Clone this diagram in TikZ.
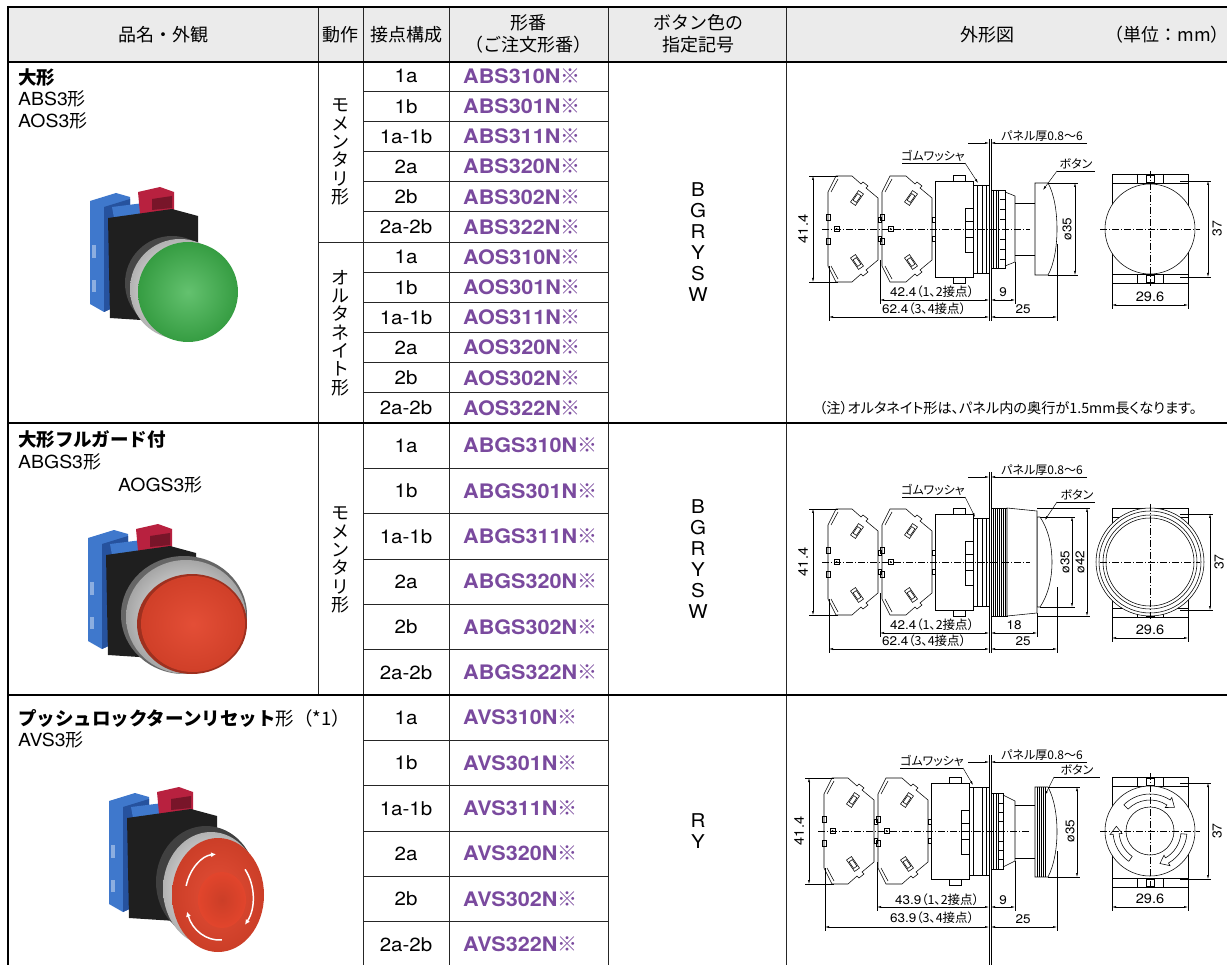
\documentclass[tikz,border=0pt]{standalone}
\usepackage{fontspec}
\setmainfont{TeX Gyre Heros}[FakeStretch=1.08]
\newfontfamily\jp{Noto Sans CJK JP}
\newfontfamily\jpp{Noto Sans CJK JP}[RawFeature={+palt}]
\usetikzlibrary{arrows.meta}
\definecolor{pn}{HTML}{7A4A9E}
\definecolor{hdr}{HTML}{EBEBEB}
\definecolor{bblue}{HTML}{3F78CC}
\definecolor{bbluedk}{HTML}{26529E}
\definecolor{rterm}{HTML}{B8213F}
\definecolor{gcap}{HTML}{3DB24B}
\definecolor{rcap}{HTML}{E2452C}
\newcommand\fs[1]{\fontsize{#1}{#1}\selectfont}
\tikzset{
 tl/.style={line width=0.9pt, draw=black!85},
 sepl/.style={line width=1.3pt},
 heavy/.style={line width=2.2pt},
 dl/.style={line width=0.55pt},
 cl/.style={line width=0.4pt, dash pattern=on 7pt off 2pt on 1pt off 2pt},
 dimline/.style={line width=0.45pt, {Latex[length=4pt,width=2.2pt]}-{Latex[length=4pt,width=2.2pt]}},
 onearr/.style={line width=0.45pt, -{Latex[length=4pt,width=2.2pt]}},
 ext/.style={line width=0.4pt},
 hd/.style={font=\jp\fs{18}, inner sep=0pt, align=center},
 ct/.style={font=\fs{19}, inner sep=0pt},
 pnum/.style={font=\bfseries\fs{20}, text=pn, anchor=west, inner sep=0pt},
 lbl/.style={font=\jpp\fs{12}, inner sep=0pt},
 dimt/.style={font=\fs{12.5}, inner sep=0pt},
 vt/.style={font=\jp\fontsize{18}{18.3}\selectfont, align=center, inner sep=0pt},
 colt/.style={font=\fontsize{19}{21}\selectfont, align=center, inner sep=0pt},
 ttl/.style={anchor=west, inner sep=0pt, font=\fs{18}},
}
% rear parts of the side view: #1 yc, #2 dx, #3 panel top, #4 panel bottom
\newcommand\rear[4]{%
\begin{scope}[shift={(990,#1)}]
 \foreach \bx in {-162,-108}{%
  \pgfmathsetmacro\x{\bx+#2}
  \draw[dl,fill=white] (\x,-37) -- (\x+8,-53) -- (\x+24,-53) -- (\x+33,-45) -- (\x+35,-47) -- (\x+40,-43) -- (\x+38,-41) -- (\x+50,-31) -- (\x+50,31) -- (\x+38,41) -- (\x+40,43) -- (\x+35,47) -- (\x+33,45) -- (\x+24,53) -- (\x+8,53) -- (\x,37) -- cycle;
  \draw[dl] (\x+3,-37) -- (\x+10,-50);
  \draw[dl] (\x+3,37) -- (\x+10,50);
  \draw[dl] (\x-2,-15) rectangle (\x+2,-9);
  \draw[dl] (\x-2,9) rectangle (\x+2,15);
  \draw[dl] (\x+6,-2.5) rectangle (\x+11,2.5);
  \fill (\x+8.5,0) circle (1pt);
  \draw[dl,rotate around={55:(\x+29,-31)}] (\x+22,-34) rectangle (\x+36,-28);
  \draw[dl,rotate around={55:(\x+29,-31)}] (\x+25,-33) rectangle (\x+33,-29);
  \draw[dl,rotate around={-55:(\x+29,33)}] (\x+22,30) rectangle (\x+36,36);
  \draw[dl,rotate around={-55:(\x+29,33)}] (\x+25,31) rectangle (\x+33,35);
  \draw[dl] (\x+50,-12) rectangle (\x+53,-7);
  \draw[dl] (\x+50,7) rectangle (\x+53,12);
 }
 \draw[dl,fill=white] (-55+#2,-48) rectangle (-17+#2,48);
 \draw[dl] (-37+#2,-48) -- (-37+#2,-54) -- (-25+#2,-54) -- (-25+#2,-48);
 \draw[dl] (-37+#2,48) -- (-37+#2,54) -- (-25+#2,54) -- (-25+#2,48);
 \draw[dl] (-25+#2,-21) rectangle (-17+#2,23);
 \draw[dl] (-25+#2,-8) -- (-17+#2,-8);
 \draw[dl] (-25+#2,8) -- (-17+#2,8);
 \draw[dl,fill=white] (-17+#2,-44) rectangle (-1,44);
 \draw[dl] (-13+#2,-44) -- (-13+#2,44);
 \draw[dl] (-8,-44) -- (-8,44);
 \draw[dl] (-4,-44) -- (-4,44);
 \draw[dl] (-1,#3) -- (-1,#4);
 \draw[dl] (1,#3) -- (1,#4);
 \draw[ext] (-181+#2,-53) -- (-152+#2,-53);
 \draw[ext] (-181+#2,53) -- (-152+#2,53);
 \draw[dimline] (-177+#2,-53) -- (-177+#2,53);
 \node[dimt, font=\fs{13.5}, rotate=90] at (-187+#2,0) {41.4};
\end{scope}}
% front view base: #1 yc, #2 top, #3 bottom
\newcommand\frontbase[3]{%
\begin{scope}[shift={(1150,#1)}]
 \draw[dl] (-38,#2) rectangle (38,#3);
 \draw[dl] (-38,#2+9) -- (38,#2+9);
 \draw[dl] (-38,#3-9) -- (38,#3-9);
 \foreach \s in {-13,13}{\draw[dl] (\s,#2) -- (\s,#2+9); \draw[dl] (\s,#3) -- (\s,#3-9);}
 \draw[dl] (-4,#2+1) rectangle (4,#2+8);
 \draw[dl] (-4,#3-1) rectangle (4,#3-8);
\end{scope}}
% front view dims: #1 yc, #2 bottom, #3 dim x of 37
\newcommand\frontdims[3]{%
\begin{scope}[shift={(1150,#1)}]
 \draw[cl] (-50,0) -- (50,0);
 \draw[cl] (0,-58) -- (0,58);
 \draw[ext] (30,-48) -- (#3+3,-48);
 \draw[ext] (30,48) -- (#3+3,48);
 \draw[dimline] (#3,-48) -- (#3,48);
 \node[dimt, font=\fs{13}, rotate=90] at (#3+9,0) {37};
 \draw[ext] (-38,#2) -- (-38,80);
 \draw[ext] (38,#2) -- (38,80);
 \draw[dimline] (-38,76) -- (38,76);
 \node[dimt, font=\fs{13.5}] at (0,68) {29.6};
\end{scope}}
% photo back parts (coordinates of photo 1)
\newcommand\pbback{%
 \fill[bblue] (90,201) -- (116,193) -- (130,197) -- (130,300) -- (104,312) -- (90,304) -- cycle;
 \fill[bbluedk] (104,207) -- (130,199) -- (130,300) -- (104,312) -- cycle;
 \fill[bblue!60!white] (92,245) rectangle (96,258);
 \fill[bblue!60!white] (92,280) rectangle (96,292);
 \fill[bblue] (112,207) -- (168,200) -- (172,210) -- (114,218) -- cycle;
 \fill[rterm] (138,192) -- (160,187) -- (174,192) -- (174,210) -- (140,214) -- cycle;
 \fill[rterm!65!black] (152,199) -- (172,196) -- (172,208) -- (152,210) -- cycle;
 \fill[black!88] (108,218) -- (172,209) -- (198,216) -- (198,312) -- (172,322) -- (110,318) -- cycle;
}
\begin{document}
\begin{tikzpicture}[x=1pt,y=-1pt]
\useasboundingbox (0,0) rectangle (1227,965);
\fill[hdr] (8,7) rectangle (1227,62);

% ---------- photos ----------
\begin{scope}
 \pbback
 \fill[black!72] (172,283) circle (47pt);
 \shade[inner color=white, outer color=black!30] (180,289) circle (50pt);
 \shade[inner color=gcap!80!white, outer color=gcap!88!black] (188,292) circle (50pt);
\end{scope}
\begin{scope}[shift={(-2,337)}]
 \pbback
\end{scope}
\fill[black!60] (184,615) ellipse (63pt and 59pt);
\shade[inner color=white, outer color=black!35] (186,617) ellipse (60pt and 57pt);
\fill[rcap!70!black] (192,624) ellipse (55pt and 50pt);
\shade[inner color=rcap!95!white, outer color=rcap!92!black] (193,624) ellipse (52pt and 48pt);
\begin{scope}[shift={(19,600)}]
 \pbback
\end{scope}
\fill[black!75] (206,882) ellipse (50pt and 56pt);
\shade[inner color=white, outer color=black!30] (211,889) ellipse (48pt and 57pt);
\shade[inner color=rcap!95!white, outer color=rcap!90!black] (218,895) ellipse (46pt and 57pt);
\shade[inner color=rcap!90!black, outer color=rcap] (222,900) ellipse (24pt and 28pt);
\foreach \a/\b in {165/95, 40/-40, -85/-160}{
 \draw[white, line width=1.5pt, -{Latex[length=5pt,width=5pt]}] (219,897) ++(\a:34pt and 43pt) arc[start angle=\a, end angle=\b, x radius=34pt, y radius=43pt];
}

% ---------- grid ----------
\foreach \i in {1,...,11} \draw[tl] (363,61+30.17*\i) -- (608,61+30.17*\i);
\draw[tl] (318,242) -- (363,242);
\foreach \i in {1,...,5}{
 \draw[tl] (363,423+45.33*\i) -- (608,423+45.33*\i);
 \draw[tl] (363,695+45.33*\i) -- (608,695+45.33*\i);
}
\draw[tl] (318,7) -- (318,695);
\foreach \xx in {363,449,608,786} \draw[tl] (\xx,7) -- (\xx,965);
\draw[sepl] (8,423) -- (1227,423);
\draw[sepl] (8,695) -- (1227,695);
\draw[heavy] (8,7) -- (1227,7);
\draw[heavy] (8,62) -- (1227,62);
\draw[line width=1.8pt] (8,6) -- (8,965);

% ---------- header ----------
\node[hd] (h1) at (163,35) {品名・外観};
\node[hd] (h2) at (340,35) {動作};
\node[hd] (h3) at (406,35) {接点構成};
\node[hd, font=\jp\fontsize{18}{22}\selectfont] (h4) at (528,34) {形番\\（ご注文形番）};
\node[hd, font=\jp\fontsize{18}{22}\selectfont] (h5) at (698,34) {ボタン色の\\指定記号};
\node[hd] (h6) at (987,35) {外形図};
\node[hd] (h7) at (1167,35) {（単位：mm）};

% ---------- titles ----------
\node[ttl, font=\jp\bfseries\fs{18.5}] (t1) at (18,78) {大形};
\node[ttl] (t1b) at (18,99) {ABS3\jp 形};
\node[ttl] (t1c) at (18,121) {AOS3\jp 形};
\node[ttl, font=\jp\bfseries\fs{18.5}] (t2) at (18,440) {大形フルガード付};
\node[ttl] (t2b) at (18,462) {ABGS3\jp 形};
\node[ttl] (t2c) at (118,485) {AOGS3\jp 形};
\node[ttl, font=\jp\fs{18.5}] (t3) at (18,718) {{\bfseries プッシュロックターンリセット}形（*1）};
\node[ttl] (t3b) at (18,740) {AVS3\jp 形};

% ---------- action ----------
\node[vt] (v1) at (340,152) {モ\\メ\\ン\\タ\\リ\\形};
\node[vt] (v2) at (340,333) {オ\\ル\\タ\\ネ\\イ\\ト\\形};
\node[vt] (v3) at (340,560) {モ\\メ\\ン\\タ\\リ\\形};

% ---------- contacts & part numbers ----------
\foreach \t [count=\i] in {1a,1b,1a-1b,2a,2b,2a-2b}{
 \node[ct] (ca\i) at (406,46+30.17*\i) {\t};
 \node[ct] (cb\i) at (406,227+30.17*\i) {\t};
 \node[ct] (cc\i) at (406,400.3+45.33*\i) {\t};
 \node[ct] (cd\i) at (406,672.3+45.33*\i) {\t};
}
\foreach \m [count=\i] in {310,301,311,320,302,322}{
 \node[pnum] (pa\i) at (463,46+30.17*\i) {ABS\m N\jp ※};
 \node[pnum] (pb\i) at (463,227+30.17*\i) {AOS\m N\jp ※};
 \node[pnum] (pc\i) at (463,400.3+45.33*\i) {ABGS\m N\jp ※};
 \node[pnum] (pd\i) at (463,672.3+45.33*\i) {AVS\m N\jp ※};
}

% ---------- colour codes ----------
\node[colt] (k1) at (698,242) {B\\G\\R\\Y\\S\\W};
\node[colt] (k2) at (698,559) {B\\G\\R\\Y\\S\\W};
\node[colt] (k3) at (698,831) {R\\Y};

% ---------- drawing 1 ----------
\rear{229}{0}{-90}{92}
\begin{scope}[shift={(990,229)}]
 \draw[dl,fill=white] (1,-39) rectangle (15,39);
 \foreach \k in {3.5,6,8.5}{\draw[dl] (\k,-39) -- (\k,39);}
 \foreach \k in {-30,-20,-10,10,20,30}{\draw[dl] (10,\k) -- (15,\k);}
 \draw[dl] (15,-37) -- (25,-33) -- (25,33) -- (15,37);
 \draw[dl] (25,-26) -- (45,-26);
 \draw[dl] (25,26) -- (45,26);
 \draw[dl,fill=white] (45,-46) -- (58,-46) .. controls (70,-25) and (70,25) .. (58,46) -- (45,46) -- cycle;
 \draw[ext] (58,-46) -- (88,-46);
 \draw[ext] (58,46) -- (88,46);
 \draw[dimline] (85,-46) -- (85,46);
 \node[dimt, rotate=90] at (77,0) {ø35};
 \draw[cl] (-168,0) -- (40,0);
 % bottom dims
 \draw[ext] (-161,37) -- (-161,92);
 \draw[ext] (-110,31) -- (-110,75);
 \draw[ext] (25,33) -- (25,75);
 \draw[ext] (67,15) -- (67,92);
 \draw[dimline] (-110,71) -- (-1,71);
 \draw[dimline] (1,71) -- (25,71);
 \draw[dimline] (-161,88) -- (-1,88);
 \draw[dimline] (1,88) -- (67,88);
 \node[dimt] at (-58,63) {42.4\jpp（1、2接点）};
 \node[dimt] at (13,63) {9};
 \node[dimt] at (-66,80) {62.4\jpp（3、4接点）};
 \node[dimt] at (33,80) {25};
 % labels
 \draw[onearr] (-22,-86) -- (-1,-86);
 \draw[onearr] (97,-86) -- (1,-86);
 \node[lbl] at (52,-93) {パネル厚0.8〜6};
 \draw[ext] (-88,-66) -- (-25,-66);
 \draw[onearr] (-25,-66) -- (-12,-46);
 \node[lbl] at (-57,-73) {ゴムワッシャ};
 \draw[ext] (67,-58) -- (105,-58);
 \draw[onearr] (67,-58) -- (53,-39);
 \node[lbl] at (86,-65) {ボタン};
\end{scope}
\frontbase{229}{-55}{54}
\fill[white] (1150,229) circle (45pt);
\draw[dl] (1150,229) circle (45pt);
\frontdims{229}{54}{58}
\node[font=\jpp\fs{14.2}, inner sep=0pt] (note) at (1008,408) {（注）オルタネイト形は、パネル内の奥行が1.5mm長くなります。};

% ---------- drawing 2 ----------
\rear{562}{0}{-90}{91}
\begin{scope}[shift={(990,562)}]
 \draw[dl,fill=white] (47,-45) -- (50,-45) .. controls (66,-22) and (66,22) .. (50,45) -- (47,45) -- cycle;
 \draw[dl,fill=white] (1,-54) rectangle (17,54);
 \foreach \k in {3,5,7,9,11,13,15}{\draw[dl] (\k,-54) -- (\k,54);}
 \draw[dl,fill=white] (17,-54) -- (47,-51) -- (47,51) -- (17,54) -- cycle;
 \draw[ext] (50,-45) -- (85,-45);
 \draw[ext] (50,45) -- (85,45);
 \draw[ext] (47,-54) -- (100,-54);
 \draw[ext] (47,54) -- (100,54);
 \draw[dimline] (82,-45) -- (82,45);
 \draw[dimline] (97,-54) -- (97,54);
 \node[dimt, rotate=90] at (75,0) {ø35};
 \node[dimt, rotate=90] at (90,0) {ø42};
 \draw[cl] (-168,0) -- (40,0);
 \draw[ext] (-161,37) -- (-161,91);
 \draw[ext] (-110,31) -- (-110,75);
 \draw[ext] (47,51) -- (47,75);
 \draw[ext] (67,25) -- (67,91);
 \draw[dimline] (-110,71) -- (-1,71);
 \draw[dimline] (1,71) -- (47,71);
 \draw[dimline] (-161,87) -- (-1,87);
 \draw[dimline] (1,87) -- (67,87);
 \node[dimt] at (-58,63) {42.4\jpp（1、2接点）};
 \node[dimt] at (24,63) {18};
 \node[dimt] at (-66,79) {62.4\jpp（3、4接点）};
 \node[dimt] at (33,79) {25};
 \draw[onearr] (-22,-85) -- (-1,-85);
 \draw[onearr] (97,-85) -- (1,-85);
 \node[lbl] at (52,-92) {パネル厚0.8〜6};
 \draw[ext] (-88,-65) -- (-25,-65);
 \draw[onearr] (-25,-65) -- (-15,-45);
 \node[lbl] at (-57,-72) {ゴムワッシャ};
 \draw[ext] (67,-60) -- (105,-60);
 \draw[onearr] (67,-60) -- (55,-42);
 \node[lbl] at (87,-67) {ボタン};
\end{scope}
\frontbase{562}{-54}{55}
\foreach \r in {54,51,47,44}{\draw[dl,fill=white] (1150,562) circle (\r pt);}
\frontdims{562}{55}{60}

% ---------- drawing 3 ----------
\rear{831}{-4}{-76}{134}
\begin{scope}[shift={(990,831)}]
 \draw[dl,fill=white] (1,-38) rectangle (13,38);
 \foreach \k in {3.5,6,8.5}{\draw[dl] (\k,-38) -- (\k,38);}
 \foreach \k in {-28,-19,-10,10,19,28}{\draw[dl] (9,\k) -- (13,\k);}
 \draw[dl] (13,-36) -- (25,-30) -- (25,30) -- (13,36);
 \draw[dl] (25,-26) -- (45,-26);
 \draw[dl] (25,27) -- (45,27);
 \draw[dl,fill=white] (45,-44) -- (58,-44) .. controls (70,-22) and (70,23) .. (58,46) -- (45,46) -- cycle;
 \foreach \k in {47,49,51,53,55}{\draw[dl] (\k,-44) -- (\k,46);}
 \draw[ext] (58,-44) -- (90,-44);
 \draw[ext] (58,46) -- (90,46);
 \draw[dimline] (87,-44) -- (87,46);
 \node[dimt, rotate=90] at (80,0) {ø35};
 \draw[cl] (-172,0) -- (40,0);
 \draw[ext] (-165,37) -- (-165,100);
 \draw[ext] (-113,31) -- (-113,80);
 \draw[ext] (25,30) -- (25,80);
 \draw[ext] (67,20) -- (67,100);
 \draw[dimline] (-113,76) -- (-1,76);
 \draw[dimline] (1,76) -- (25,76);
 \draw[dimline] (-165,96) -- (-1,96);
 \draw[dimline] (1,96) -- (67,96);
 \node[dimt] at (-53,69) {43.9\jpp（1、2接点）};
 \node[dimt] at (13,69) {9};
 \node[dimt] at (-58,87) {63.9\jpp（3、4接点）};
 \node[dimt] at (33,88) {25};
 \draw[onearr] (-22,-69) -- (-1,-69);
 \draw[onearr] (97,-69) -- (1,-69);
 \node[lbl] at (52,-76) {パネル厚0.8〜6};
 \draw[ext] (-90,-63) -- (-27,-63);
 \draw[onearr] (-27,-63) -- (-17,-46);
 \node[lbl] at (-58,-70) {ゴムワッシャ};
 \draw[ext] (64,-54) -- (110,-54);
 \draw[onearr] (64,-54) -- (55,-36);
 \node[lbl] at (87,-61) {ボタン};
\end{scope}
\frontbase{831}{-54}{56}
\fill[white] (1150,831) circle (45pt);
\draw[dl] (1150,831) circle (45pt);
\draw[dl] (1150,831) circle (24pt);
\begin{scope}[shift={(1150,831)}]
 \foreach \a/\b in {135/57, -5/-60, 235/185}{
  \pgfmathsetmacro\c{\b-13}
  \draw[dl, fill=white] (\a:37pt) arc[start angle=\a, end angle=\b, radius=37pt] -- (\b:40pt) -- (\c:34pt) -- (\b:28pt) -- (\b:31pt) arc[start angle=\b, end angle=\a, radius=31pt] -- cycle;
 }
\end{scope}
\frontdims{831}{56}{58}
\end{tikzpicture}
\end{document}
